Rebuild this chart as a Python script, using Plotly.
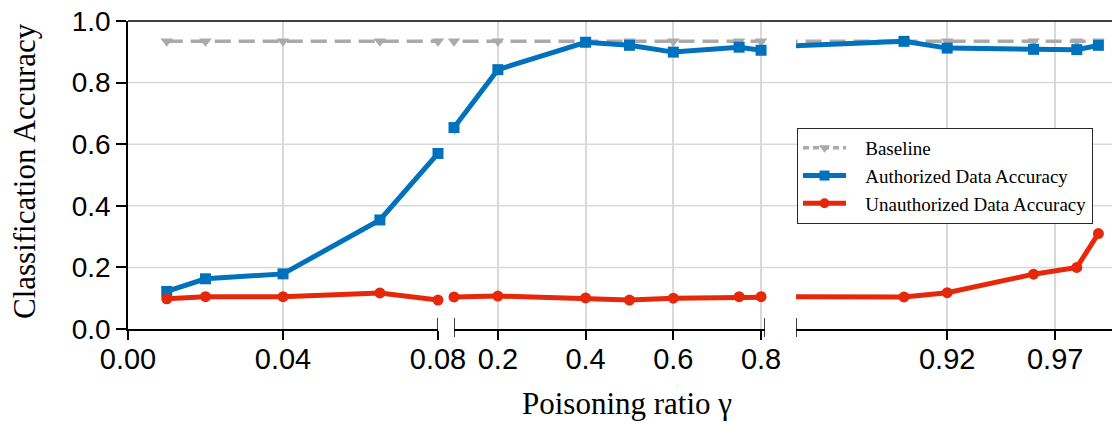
import plotly.graph_objects as go

# ---------------- data ----------------
gamma = [0.01, 0.02, 0.04, 0.065, 0.08, 0.1, 0.2, 0.4, 0.5, 0.6, 0.75, 0.8,
         0.9, 0.92, 0.96, 0.98, 0.99]
baseline = [0.934, 0.934, 0.934, 0.934, 0.934, 0.934, 0.934, 0.934, 0.934,
            0.934, 0.934, 0.934, 0.934, 0.934, 0.934, 0.934, 0.934]
authorized = [0.122, 0.163, 0.179, 0.354, 0.570, 0.654, 0.842, 0.931, 0.921,
              0.899, 0.915, 0.905, 0.934, 0.912, 0.908, 0.907, 0.921]
unauthorized = [0.098, 0.105, 0.105, 0.117, 0.094, 0.104, 0.107, 0.101, 0.094,
                0.100, 0.105, 0.105, 0.104, 0.118, 0.178, 0.200, 0.310]

series_names = ["Baseline", "Authorized Data Accuracy", "Unauthorized Data Accuracy"]

seg_ranges = [[0.0, 0.08], [0.1, 0.809], [0.85, 0.9963]]
seg_tickvals = [[0.0, 0.04, 0.08], [0.2, 0.4, 0.6, 0.8], [0.92, 0.97]]
seg_ticktext = [["0.00", "0.04", "0.08"], ["0.2", "0.4", "0.6", "0.8"], ["0.92", "0.97"]]
y_tickvals = [0.0, 0.2, 0.4, 0.6, 0.8, 1.0]
y_ticktext = ["0.0", "0.2", "0.4", "0.6", "0.8", "1.0"]

# ---------------- layout geometry ----------------
W, H = 1112, 424
ML, MR, MT, MB = 128, 0, 21, 95
PW = W - ML - MR
PH = H - MT - MB
seg_px = [(128, 438), (454, 765), (796, 1112)]
domains = [[(a - ML) / PW, (b - ML) / PW] for a, b in seg_px]

SANS = "Liberation Sans, Arial, sans-serif"
SERIF = "Liberation Serif, Times New Roman, serif"

styles = [
    dict(color="rgb(170,170,170)", width=3.5, dash="16px,8px", symbol="triangle-down", size=11),
    dict(color="rgb(0,114,189)", width=5, dash="solid", symbol="square", size=11),
    dict(color="rgb(230,40,10)", width=5, dash="solid", symbol="circle", size=11),
]
all_series = [baseline, authorized, unauthorized]
axis_ids = ["x", "x2", "x3"]

fig = go.Figure()

for name, ys, st in zip(series_names, all_series, styles):
    for k, (ax, rng) in enumerate(zip(axis_ids, seg_ranges)):
        # continuous line (clipped to the segment)
        fig.add_trace(go.Scatter(
            x=gamma, y=ys, xaxis=ax, yaxis="y", mode="lines",
            line=dict(color=st["color"], width=st["width"], dash=st["dash"]),
            showlegend=False, hoverinfo="skip"))
        # markers only for points inside this segment
        inside = [rng[0] - 1e-9 <= g <= rng[1] + 1e-9 for g in gamma]
        xs = [g for g, ok in zip(gamma, inside) if ok]
        yv = [v for v, ok in zip(ys, inside) if ok]
        fig.add_trace(go.Scatter(
            x=xs, y=yv, xaxis=ax, yaxis="y", mode="markers",
            marker=dict(color=st["color"], symbol=st["symbol"], size=st["size"], line=dict(width=0)),
            cliponaxis=False, showlegend=False))
    # legend entry
    fig.add_trace(go.Scatter(
        x=[None], y=[None], xaxis="x", yaxis="y", mode="lines+markers",
        name="\u00a0\u00a0\u00a0" + name,
        line=dict(color=st["color"], width=st["width"], dash=st["dash"] if st["dash"] == "solid" else "6px,4px"),
        marker=dict(color=st["color"], symbol=st["symbol"], size=st["size"] - 1, line=dict(width=0)),
        showlegend=True))

axis_common = dict(
    showline=True, linecolor="black", linewidth=1.5,
    ticks="outside", ticklen=9, tickwidth=1.5, tickcolor="black",
    showgrid=True, gridcolor="rgb(217,217,217)", gridwidth=1.5,
    zeroline=False, ticklabelstandoff=-6,
    tickfont=dict(family=SANS, size=29, color="black"),
    anchor="y",
)
layout_axes = {}
for k, ax in enumerate(axis_ids):
    key = "xaxis" if k == 0 else f"xaxis{k + 1}"
    layout_axes[key] = dict(
        axis_common, domain=domains[k], range=seg_ranges[k],
        tickmode="array", tickvals=seg_tickvals[k], ticktext=seg_ticktext[k])

fig.update_layout(
    width=W, height=H,
    margin=dict(l=ML, r=MR, t=MT, b=MB, pad=0, autoexpand=False),
    paper_bgcolor="white", plot_bgcolor="white",
    yaxis=dict(
        domain=[0, 1], range=[0, 1.0], anchor="x",
        showline=True, linecolor="black", linewidth=1.5,
        ticks="outside", ticklen=10, tickwidth=1.5, tickcolor="black",
        tickmode="array", tickvals=y_tickvals, ticktext=y_ticktext,
        showgrid=False, zeroline=False,
        tickfont=dict(family=SANS, size=28, color="black"),
    ),
    legend=dict(
        x=(797 - ML) / PW, y=(MT + PH - 128) / PH, xanchor="left", yanchor="top",
        bgcolor="white", bordercolor="rgb(40,40,40)", borderwidth=1,
        font=dict(family=SERIF, size=19, color="black"),
        itemwidth=43, tracegroupgap=0,
    ),
    **layout_axes,
)

shapes = []
# horizontal gridlines across the whole width
for v in y_tickvals[1:-1]:
    shapes.append(dict(type="line", xref="paper", yref="y", x0=0, x1=1, y0=v, y1=v,
                       line=dict(color="rgb(217,217,217)", width=1.5), layer="below"))
# top frame line
shapes.append(dict(type="line", xref="paper", yref="paper", x0=0, x1=1, y0=1, y1=1,
                   line=dict(color="black", width=1.5)))
# break caps
caps = [("x", seg_ranges[0][1]), ("x2", seg_ranges[1][0]), ("x2", seg_ranges[1][1]),
        ("x3", seg_ranges[2][0])]
for ax, xv in caps:
    shapes.append(dict(type="line", xref=ax, yref="paper", x0=xv, x1=xv,
                       y0=-8 / PH, y1=11 / PH, line=dict(color="black", width=1.5)))
fig.update_layout(shapes=shapes)

fig.add_annotation(text="Poisoning ratio γ", xref="paper", yref="paper",
                   x=(627 - ML) / PW, y=(MT + PH - 403) / PH, xanchor="center", yanchor="middle",
                   showarrow=False, font=dict(family=SERIF, size=31, color="black"))
fig.add_annotation(text="Classification Accuracy", xref="paper", yref="paper",
                   x=(24 - ML) / PW, y=(MT + PH - 171) / PH, xanchor="center", yanchor="middle",
                   textangle=-90, showarrow=False, font=dict(family=SERIF, size=31, color="black"))

fig.write_html("out.html", config={"displayModeBar": False},
               post_script="document.body.style.margin='0px';")
